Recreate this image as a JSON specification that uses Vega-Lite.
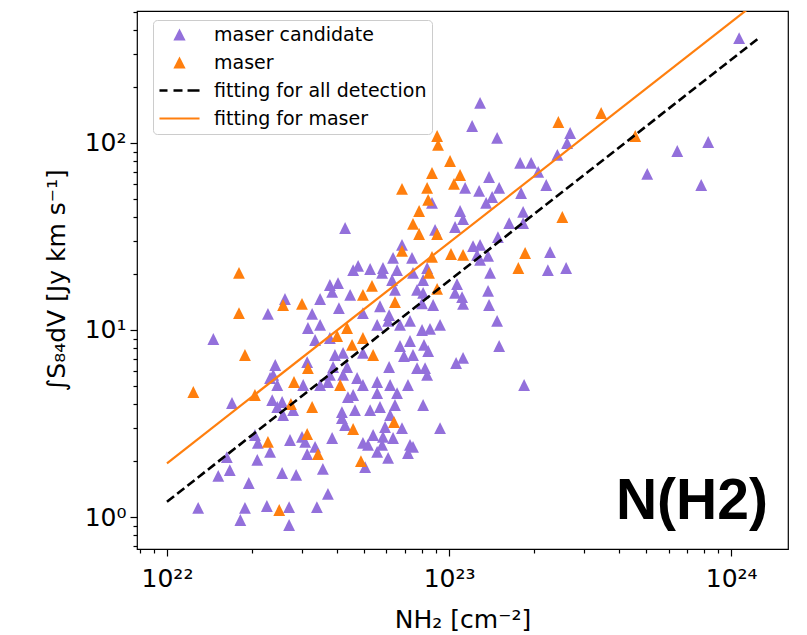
{
"$schema":"https://vega.github.io/schema/vega-lite/v6.json",
"width":651,"height":538,
"autosize":{"type":"none"},
"padding":{"left":137,"top":11,"right":19,"bottom":86},
"background":"white",
"datasets":{
"points":[
{"N":1.067e24,"S":364,"type":"maser candidate"},
{"N":1.288e23,"S":163.7,"type":"maser candidate"},
{"N":1.207e23,"S":123.3,"type":"maser candidate"},
{"N":1.48e23,"S":106.4,"type":"maser candidate"},
{"N":2.686e23,"S":113.1,"type":"maser candidate"},
{"N":2.62e23,"S":100.0,"type":"maser candidate"},
{"N":2.42e23,"S":86.3,"type":"maser candidate"},
{"N":1.786e23,"S":78.2,"type":"maser candidate"},
{"N":1.954e23,"S":78.2,"type":"maser candidate"},
{"N":2.07e23,"S":70.0,"type":"maser candidate"},
{"N":1.386e23,"S":65.8,"type":"maser candidate"},
{"N":8.29e23,"S":101.2,"type":"maser candidate"},
{"N":6.44e23,"S":90.6,"type":"maser candidate"},
{"N":5.04e23,"S":68.3,"type":"maser candidate"},
{"N":7.83e23,"S":59.6,"type":"maser candidate"},
{"N":1.14e23,"S":57.5,"type":"maser candidate"},
{"N":1.278e23,"S":55.4,"type":"maser candidate"},
{"N":1.505e23,"S":57.5,"type":"maser candidate"},
{"N":1.421e23,"S":51.4,"type":"maser candidate"},
{"N":1.80e23,"S":54.0,"type":"maser candidate"},
{"N":2.21e23,"S":59.6,"type":"maser candidate"},
{"N":1.353e23,"S":47.8,"type":"maser candidate"},
{"N":1.094e23,"S":43.3,"type":"maser candidate"},
{"N":1.121e23,"S":39.2,"type":"maser candidate"},
{"N":1.05e23,"S":35.55,"type":"maser candidate"},
{"N":1.83e23,"S":42.8,"type":"maser candidate"},
{"N":1.83e23,"S":37.3,"type":"maser candidate"},
{"N":1.633e23,"S":37.3,"type":"maser candidate"},
{"N":1.49e23,"S":31.4,"type":"maser candidate"},
{"N":1.216e23,"S":28.1,"type":"maser candidate"},
{"N":1.288e23,"S":28.5,"type":"maser candidate"},
{"N":1.257e23,"S":25.2,"type":"maser candidate"},
{"N":1.375e23,"S":24.9,"type":"maser candidate"},
{"N":1.288e23,"S":23.7,"type":"maser candidate"},
{"N":1.398e23,"S":20.2,"type":"maser candidate"},
{"N":2.60e23,"S":21.45,"type":"maser candidate"},
{"N":2.28e23,"S":26.1,"type":"maser candidate"},
{"N":2.24e23,"S":20.9,"type":"maser candidate"},
{"N":1.067e23,"S":17.6,"type":"maser candidate"},
{"N":1.05e23,"S":15.8,"type":"maser candidate"},
{"N":1.112e23,"S":15.0,"type":"maser candidate"},
{"N":1.121e23,"S":13.8,"type":"maser candidate"},
{"N":1.375e23,"S":16.2,"type":"maser candidate"},
{"N":1.386e23,"S":13.6,"type":"maser candidate"},
{"N":9.29e22,"S":10.64,"type":"maser candidate"},
{"N":1.48e23,"S":11.18,"type":"maser candidate"},
{"N":1.505e23,"S":8.21,"type":"maser candidate"},
{"N":1.121e23,"S":7.09,"type":"maser candidate"},
{"N":1.059e23,"S":6.66,"type":"maser candidate"},
{"N":1.845e23,"S":5.08,"type":"maser candidate"},
{"N":9.29e22,"S":2.99,"type":"maser candidate"},
{"N":8.70e22,"S":47.8,"type":"maser candidate"},
{"N":4.28e22,"S":35.1,"type":"maser candidate"},
{"N":8.92e22,"S":34.3,"type":"maser candidate"},
{"N":6.81e22,"S":28.5,"type":"maser candidate"},
{"N":6.33e22,"S":24.3,"type":"maser candidate"},
{"N":7.39e22,"S":24.3,"type":"maser candidate"},
{"N":4.76e22,"S":22.0,"type":"maser candidate"},
{"N":4.57e22,"S":20.9,"type":"maser candidate"},
{"N":5.25e22,"S":21.2,"type":"maser candidate"},
{"N":5.83e22,"S":21.45,"type":"maser candidate"},
{"N":5.79e22,"S":20.2,"type":"maser candidate"},
{"N":6.54e22,"S":20.9,"type":"maser candidate"},
{"N":7.45e22,"S":20.2,"type":"maser candidate"},
{"N":8.36e22,"S":21.45,"type":"maser candidate"},
{"N":8.09e22,"S":18.5,"type":"maser candidate"},
{"N":6.28e22,"S":18.5,"type":"maser candidate"},
{"N":6.43e22,"S":16.4,"type":"maser candidate"},
{"N":3.78e22,"S":17.4,"type":"maser candidate"},
{"N":4.04e22,"S":17.8,"type":"maser candidate"},
{"N":3.85e22,"S":16.0,"type":"maser candidate"},
{"N":7.70e22,"S":16.4,"type":"maser candidate"},
{"N":8.09e22,"S":15.8,"type":"maser candidate"},
{"N":8.78e22,"S":13.6,"type":"maser candidate"},
{"N":8.02e22,"S":13.9,"type":"maser candidate"},
{"N":2.62e22,"S":14.65,"type":"maser candidate"},
{"N":3.49e22,"S":14.65,"type":"maser candidate"},
{"N":4.46e22,"S":15.4,"type":"maser candidate"},
{"N":5.69e22,"S":13.4,"type":"maser candidate"},
{"N":4.07e22,"S":13.1,"type":"maser candidate"},
{"N":2.28e22,"S":12.2,"type":"maser candidate"},
{"N":3.27e22,"S":12.2,"type":"maser candidate"},
{"N":4.95e22,"S":12.3,"type":"maser candidate"},
{"N":6.13e22,"S":12.0,"type":"maser candidate"},
{"N":6.08e22,"S":11.2,"type":"maser candidate"},
{"N":7.27e22,"S":11.2,"type":"maser candidate"},
{"N":6.70e22,"S":10.64,"type":"maser candidate"},
{"N":5.56e22,"S":10.64,"type":"maser candidate"},
{"N":3.49e22,"S":10.64,"type":"maser candidate"},
{"N":3.16e22,"S":10.25,"type":"maser candidate"},
{"N":8.56e22,"S":10.13,"type":"maser candidate"},
{"N":8.02e22,"S":10.0,"type":"maser candidate"},
{"N":1.46e22,"S":8.95,"type":"maser candidate"},
{"N":3.78e22,"S":9.06,"type":"maser candidate"},
{"N":3.35e22,"S":8.84,"type":"maser candidate"},
{"N":6.70e22,"S":8.21,"type":"maser candidate"},
{"N":7.27e22,"S":8.73,"type":"maser candidate"},
{"N":8.15e22,"S":8.32,"type":"maser candidate"},
{"N":8.43e22,"S":7.72,"type":"maser candidate"},
{"N":6.92e22,"S":7.26,"type":"maser candidate"},
{"N":7.45e22,"S":7.35,"type":"maser candidate"},
{"N":3.94e22,"S":7.35,"type":"maser candidate"},
{"N":4.21e22,"S":7.54,"type":"maser candidate"},
{"N":4.95e22,"S":7.54,"type":"maser candidate"},
{"N":2.42e22,"S":6.50,"type":"maser candidate"},
{"N":3.14e22,"S":6.74,"type":"maser candidate"},
{"N":3.88e22,"S":6.34,"type":"maser candidate"},
{"N":4.35e22,"S":6.34,"type":"maser candidate"},
{"N":6.13e22,"S":6.34,"type":"maser candidate"},
{"N":7.70e22,"S":6.26,"type":"maser candidate"},
{"N":8.22e22,"S":6.26,"type":"maser candidate"},
{"N":2.38e22,"S":5.75,"type":"maser candidate"},
{"N":2.32e22,"S":5.54,"type":"maser candidate"},
{"N":3.78e22,"S":5.75,"type":"maser candidate"},
{"N":4.21e22,"S":5.75,"type":"maser candidate"},
{"N":8.36e22,"S":5.75,"type":"maser candidate"},
{"N":4.72e22,"S":5.54,"type":"maser candidate"},
{"N":2.46e22,"S":5.08,"type":"maser candidate"},
{"N":3.04e22,"S":5.08,"type":"maser candidate"},
{"N":3.49e22,"S":5.08,"type":"maser candidate"},
{"N":4.95e22,"S":5.08,"type":"maser candidate"},
{"N":5.56e22,"S":5.27,"type":"maser candidate"},
{"N":6.18e22,"S":5.08,"type":"maser candidate"},
{"N":7.15e22,"S":5.08,"type":"maser candidate"},
{"N":3.72e22,"S":5.27,"type":"maser candidate"},
{"N":1.70e22,"S":4.07,"type":"maser candidate"},
{"N":2.36e22,"S":4.22,"type":"maser candidate"},
{"N":2.56e22,"S":4.12,"type":"maser candidate"},
{"N":2.46e22,"S":3.875,"type":"maser candidate"},
{"N":2.58e22,"S":3.51,"type":"maser candidate"},
{"N":2.80e22,"S":3.73,"type":"maser candidate"},
{"N":4.38e22,"S":4.38,"type":"maser candidate"},
{"N":4.57e22,"S":4.49,"type":"maser candidate"},
{"N":5.56e22,"S":4.60,"type":"maser candidate"},
{"N":6.54e22,"S":4.60,"type":"maser candidate"},
{"N":5.69e22,"S":3.875,"type":"maser candidate"},
{"N":6.43e22,"S":3.97,"type":"maser candidate"},
{"N":8.09e22,"S":3.97,"type":"maser candidate"},
{"N":4.17e22,"S":3.64,"type":"maser candidate"},
{"N":4.64e22,"S":3.73,"type":"maser candidate"},
{"N":5.25e22,"S":3.73,"type":"maser candidate"},
{"N":4.17e22,"S":3.38,"type":"maser candidate"},
{"N":4.28e22,"S":3.10,"type":"maser candidate"},
{"N":6.18e22,"S":3.51,"type":"maser candidate"},
{"N":5.93e22,"S":3.03,"type":"maser candidate"},
{"N":6.81e22,"S":2.99,"type":"maser candidate"},
{"N":2.05e22,"S":2.745,"type":"maser candidate"},
{"N":2.10e22,"S":2.49,"type":"maser candidate"},
{"N":2.73e22,"S":2.58,"type":"maser candidate"},
{"N":3.01e22,"S":2.68,"type":"maser candidate"},
{"N":3.09e22,"S":2.52,"type":"maser candidate"},
{"N":3.35e22,"S":2.37,"type":"maser candidate"},
{"N":3.85e22,"S":2.645,"type":"maser candidate"},
{"N":4.95e22,"S":2.49,"type":"maser candidate"},
{"N":5.16e22,"S":2.43,"type":"maser candidate"},
{"N":5.38e22,"S":2.745,"type":"maser candidate"},
{"N":5.83e22,"S":2.68,"type":"maser candidate"},
{"N":6.33e22,"S":2.645,"type":"maser candidate"},
{"N":5.79e22,"S":2.43,"type":"maser candidate"},
{"N":7.27e22,"S":2.43,"type":"maser candidate"},
{"N":7.45e22,"S":2.37,"type":"maser candidate"},
{"N":7.15e22,"S":2.20,"type":"maser candidate"},
{"N":2.32e22,"S":2.23,"type":"maser candidate"},
{"N":3.14e22,"S":2.17,"type":"maser candidate"},
{"N":5.56e22,"S":2.23,"type":"maser candidate"},
{"N":1.63e22,"S":2.09,"type":"maser candidate"},
{"N":2.09e22,"S":2.02,"type":"maser candidate"},
{"N":6.08e22,"S":2.07,"type":"maser candidate"},
{"N":5.04e22,"S":1.85,"type":"maser candidate"},
{"N":1.67e22,"S":1.78,"type":"maser candidate"},
{"N":3.57e22,"S":1.81,"type":"maser candidate"},
{"N":1.52e22,"S":1.66,"type":"maser candidate"},
{"N":2.56e22,"S":1.72,"type":"maser candidate"},
{"N":2.87e22,"S":1.68,"type":"maser candidate"},
{"N":1.95e22,"S":1.52,"type":"maser candidate"},
{"N":3.72e22,"S":1.33,"type":"maser candidate"},
{"N":1.29e22,"S":1.12,"type":"maser candidate"},
{"N":2.26e22,"S":1.145,"type":"maser candidate"},
{"N":1.89e22,"S":1.12,"type":"maser candidate"},
{"N":2.71e22,"S":1.13,"type":"maser candidate"},
{"N":3.40e22,"S":1.13,"type":"maser candidate"},
{"N":1.82e22,"S":0.964,"type":"maser candidate"},
{"N":2.71e22,"S":0.906,"type":"maser candidate"},
{"N":9.07e22,"S":109.0,"type":"maser"},
{"N":9.14e22,"S":97.6,"type":"maser"},
{"N":1.008e23,"S":80.1,"type":"maser"},
{"N":8.70e22,"S":69.1,"type":"maser"},
{"N":1.094e23,"S":67.4,"type":"maser"},
{"N":6.81e22,"S":56.8,"type":"maser"},
{"N":8.36e22,"S":57.5,"type":"maser"},
{"N":1.041e23,"S":60.4,"type":"maser"},
{"N":8.43e22,"S":49.6,"type":"maser"},
{"N":7.83e22,"S":43.3,"type":"maser"},
{"N":7.45e22,"S":36.9,"type":"maser"},
{"N":7.83e22,"S":32.6,"type":"maser"},
{"N":9.07e22,"S":32.6,"type":"maser"},
{"N":6.81e22,"S":26.5,"type":"maser"},
{"N":1.016e23,"S":25.5,"type":"maser"},
{"N":1.121e23,"S":25.2,"type":"maser"},
{"N":8.70e22,"S":24.6,"type":"maser"},
{"N":1.80e22,"S":20.2,"type":"maser"},
{"N":8.49e22,"S":20.2,"type":"maser"},
{"N":5.33e22,"S":17.2,"type":"maser"},
{"N":9.07e22,"S":16.6,"type":"maser"},
{"N":4.95e22,"S":15.4,"type":"maser"},
{"N":2.58e22,"S":13.6,"type":"maser"},
{"N":3.01e22,"S":13.8,"type":"maser"},
{"N":6.43e22,"S":14.1,"type":"maser"},
{"N":1.80e22,"S":12.3,"type":"maser"},
{"N":4.35e22,"S":10.25,"type":"maser"},
{"N":4.01e22,"S":9.29,"type":"maser"},
{"N":4.95e22,"S":9.06,"type":"maser"},
{"N":4.53e22,"S":8.32,"type":"maser"},
{"N":5.38e22,"S":7.35,"type":"maser"},
{"N":1.89e22,"S":7.35,"type":"maser"},
{"N":3.16e22,"S":6.26,"type":"maser"},
{"N":2.82e22,"S":5.27,"type":"maser"},
{"N":4.11e22,"S":5.08,"type":"maser"},
{"N":1.24e22,"S":4.66,"type":"maser"},
{"N":2.05e22,"S":4.49,"type":"maser"},
{"N":2.75e22,"S":4.02,"type":"maser"},
{"N":3.27e22,"S":3.875,"type":"maser"},
{"N":6.38e22,"S":3.22,"type":"maser"},
{"N":4.57e22,"S":2.955,"type":"maser"},
{"N":3.14e22,"S":2.78,"type":"maser"},
{"N":2.28e22,"S":2.52,"type":"maser"},
{"N":3.43e22,"S":2.17,"type":"maser"},
{"N":4.87e22,"S":1.99,"type":"maser"},
{"N":2.50e22,"S":1.09,"type":"maser"},
{"N":3.46e23,"S":144.7,"type":"maser"},
{"N":2.44e23,"S":129.5,"type":"maser"},
{"N":4.57e23,"S":109.0,"type":"maser"},
{"N":2.52e23,"S":40.2,"type":"maser"},
{"N":1.86e23,"S":25.8,"type":"maser"},
{"N":1.76e23,"S":21.45,"type":"maser"}
],
"fits":[
{"fit":"fitting for all detection","N":1e22,"S":1.207},
{"fit":"fitting for all detection","N":1.247e24,"S":362},
{"fit":"fitting for maser","N":1e22,"S":1.937},
{"fit":"fitting for maser","N":1.247e24,"S":575}
],
"annot":[{"txt":"N(H2)"}]
},
"config":{
"view":{"stroke":"black","strokeWidth":1.2},
"font":"DejaVu Sans",
"axis":{"grid":false,"domain":false,"labelFont":"DejaVu Sans","labelFontSize":25,"labelColor":"black","titleFont":"DejaVu Sans","titleFontSize":25,"titleFontWeight":"normal","titleColor":"black","tickColor":"black","tickWidth":1.2,"labelFlush":false,"labelOverlap":false},
"legend":{"orient":"none","legendX":16,"legendY":9,"padding":5,"cornerRadius":4,"strokeColor":"#cccccc","fillColor":"rgba(255,255,255,0.85)","labelFont":"DejaVu Sans","labelFontSize":19,"labelColor":"black","labelLimit":400,"symbolSize":150,"symbolStrokeWidth":0,"rowPadding":8,"labelOffset":25,"symbolOffset":12}
},
"layer":[
{"data":{"name":"points"},
"mark":{"type":"point","filled":true,"size":140,"opacity":1,"clip":true},
"encoding":{
"x":{"field":"N","type":"quantitative","scale":{"type":"log","domain":[7.83e21,1.59e24],"nice":false},
"axis":{"title":"NH₂ [cm⁻²]","values":[8e21,9e21,1e22,2e22,3e22,4e22,5e22,6e22,7e22,8e22,9e22,1e23,2e23,3e23,4e23,5e23,6e23,7e23,8e23,9e23,1e24],
"labelExpr":"datum.value == 1e22 ? '10²²' : datum.value == 1e23 ? '10²³' : datum.value == 1e24 ? '10²⁴' : ''",
"tickSize":{"condition":{"test":"datum.value == 1e22 || datum.value == 1e23 || datum.value == 1e24","value":7},"value":4},
"labelPadding":10,"titlePadding":16}},
"y":{"field":"S","type":"quantitative","scale":{"type":"log","domain":[0.6745,507.8],"nice":false},
"axis":{"title":"∫S₈₄dV [Jy km s⁻¹]","values":[0.7,0.8,0.9,1,2,3,4,5,6,7,8,9,10,20,30,40,50,60,70,80,90,100,200,300,400,500],
"labelExpr":"datum.value == 1 ? '10⁰' : datum.value == 10 ? '10¹' : datum.value == 100 ? '10²' : ''",
"tickSize":{"condition":{"test":"datum.value == 1 || datum.value == 10 || datum.value == 100","value":7},"value":4},
"labelPadding":4,"titlePadding":15}},
"color":{"field":"type","type":"nominal",
"scale":{"domain":["maser candidate","maser","fitting for all detection","fitting for maser"],"range":["#9370db","#ff7f0e","#000000","#ff7f0e"]},
"legend":{"title":null}},
"shape":{"field":"type","type":"nominal",
"scale":{"domain":["maser candidate","maser","fitting for all detection","fitting for maser"],
"range":["M0,-1L-1,1L1,1Z","M0,-1L-1,1L1,1Z",
"M-3.27,-0.21H-1.96V0.21H-3.27Z M-0.98,-0.21H0.49V0.21H-0.98Z M1.31,-0.21H3.27V0.21H1.31Z",
"M-3.27,-0.17H3.27V0.17H-3.27Z"]},
"legend":{"title":null}}
}},
{"data":{"name":"fits"},"transform":[{"filter":"datum.fit === 'fitting for all detection'"}],
"mark":{"type":"line","color":"black","strokeDash":[9,4],"strokeWidth":2.6,"clip":true},
"encoding":{"x":{"field":"N","type":"quantitative"},"y":{"field":"S","type":"quantitative"}}},
{"data":{"name":"fits"},"transform":[{"filter":"datum.fit === 'fitting for maser'"}],
"mark":{"type":"line","color":"#ff7f0e","strokeWidth":2.2,"clip":true},
"encoding":{"x":{"field":"N","type":"quantitative"},"y":{"field":"S","type":"quantitative"}}},
{"data":{"name":"annot"},
"mark":{"type":"text","font":"Liberation Sans","fontWeight":"bold","fontSize":57,"align":"right","baseline":"alphabetic","color":"black"},
"encoding":{"x":{"datum":1.35e24,"type":"quantitative"},"y":{"datum":0.97,"type":"quantitative"},"text":{"field":"txt","type":"nominal"}}}
]
}
